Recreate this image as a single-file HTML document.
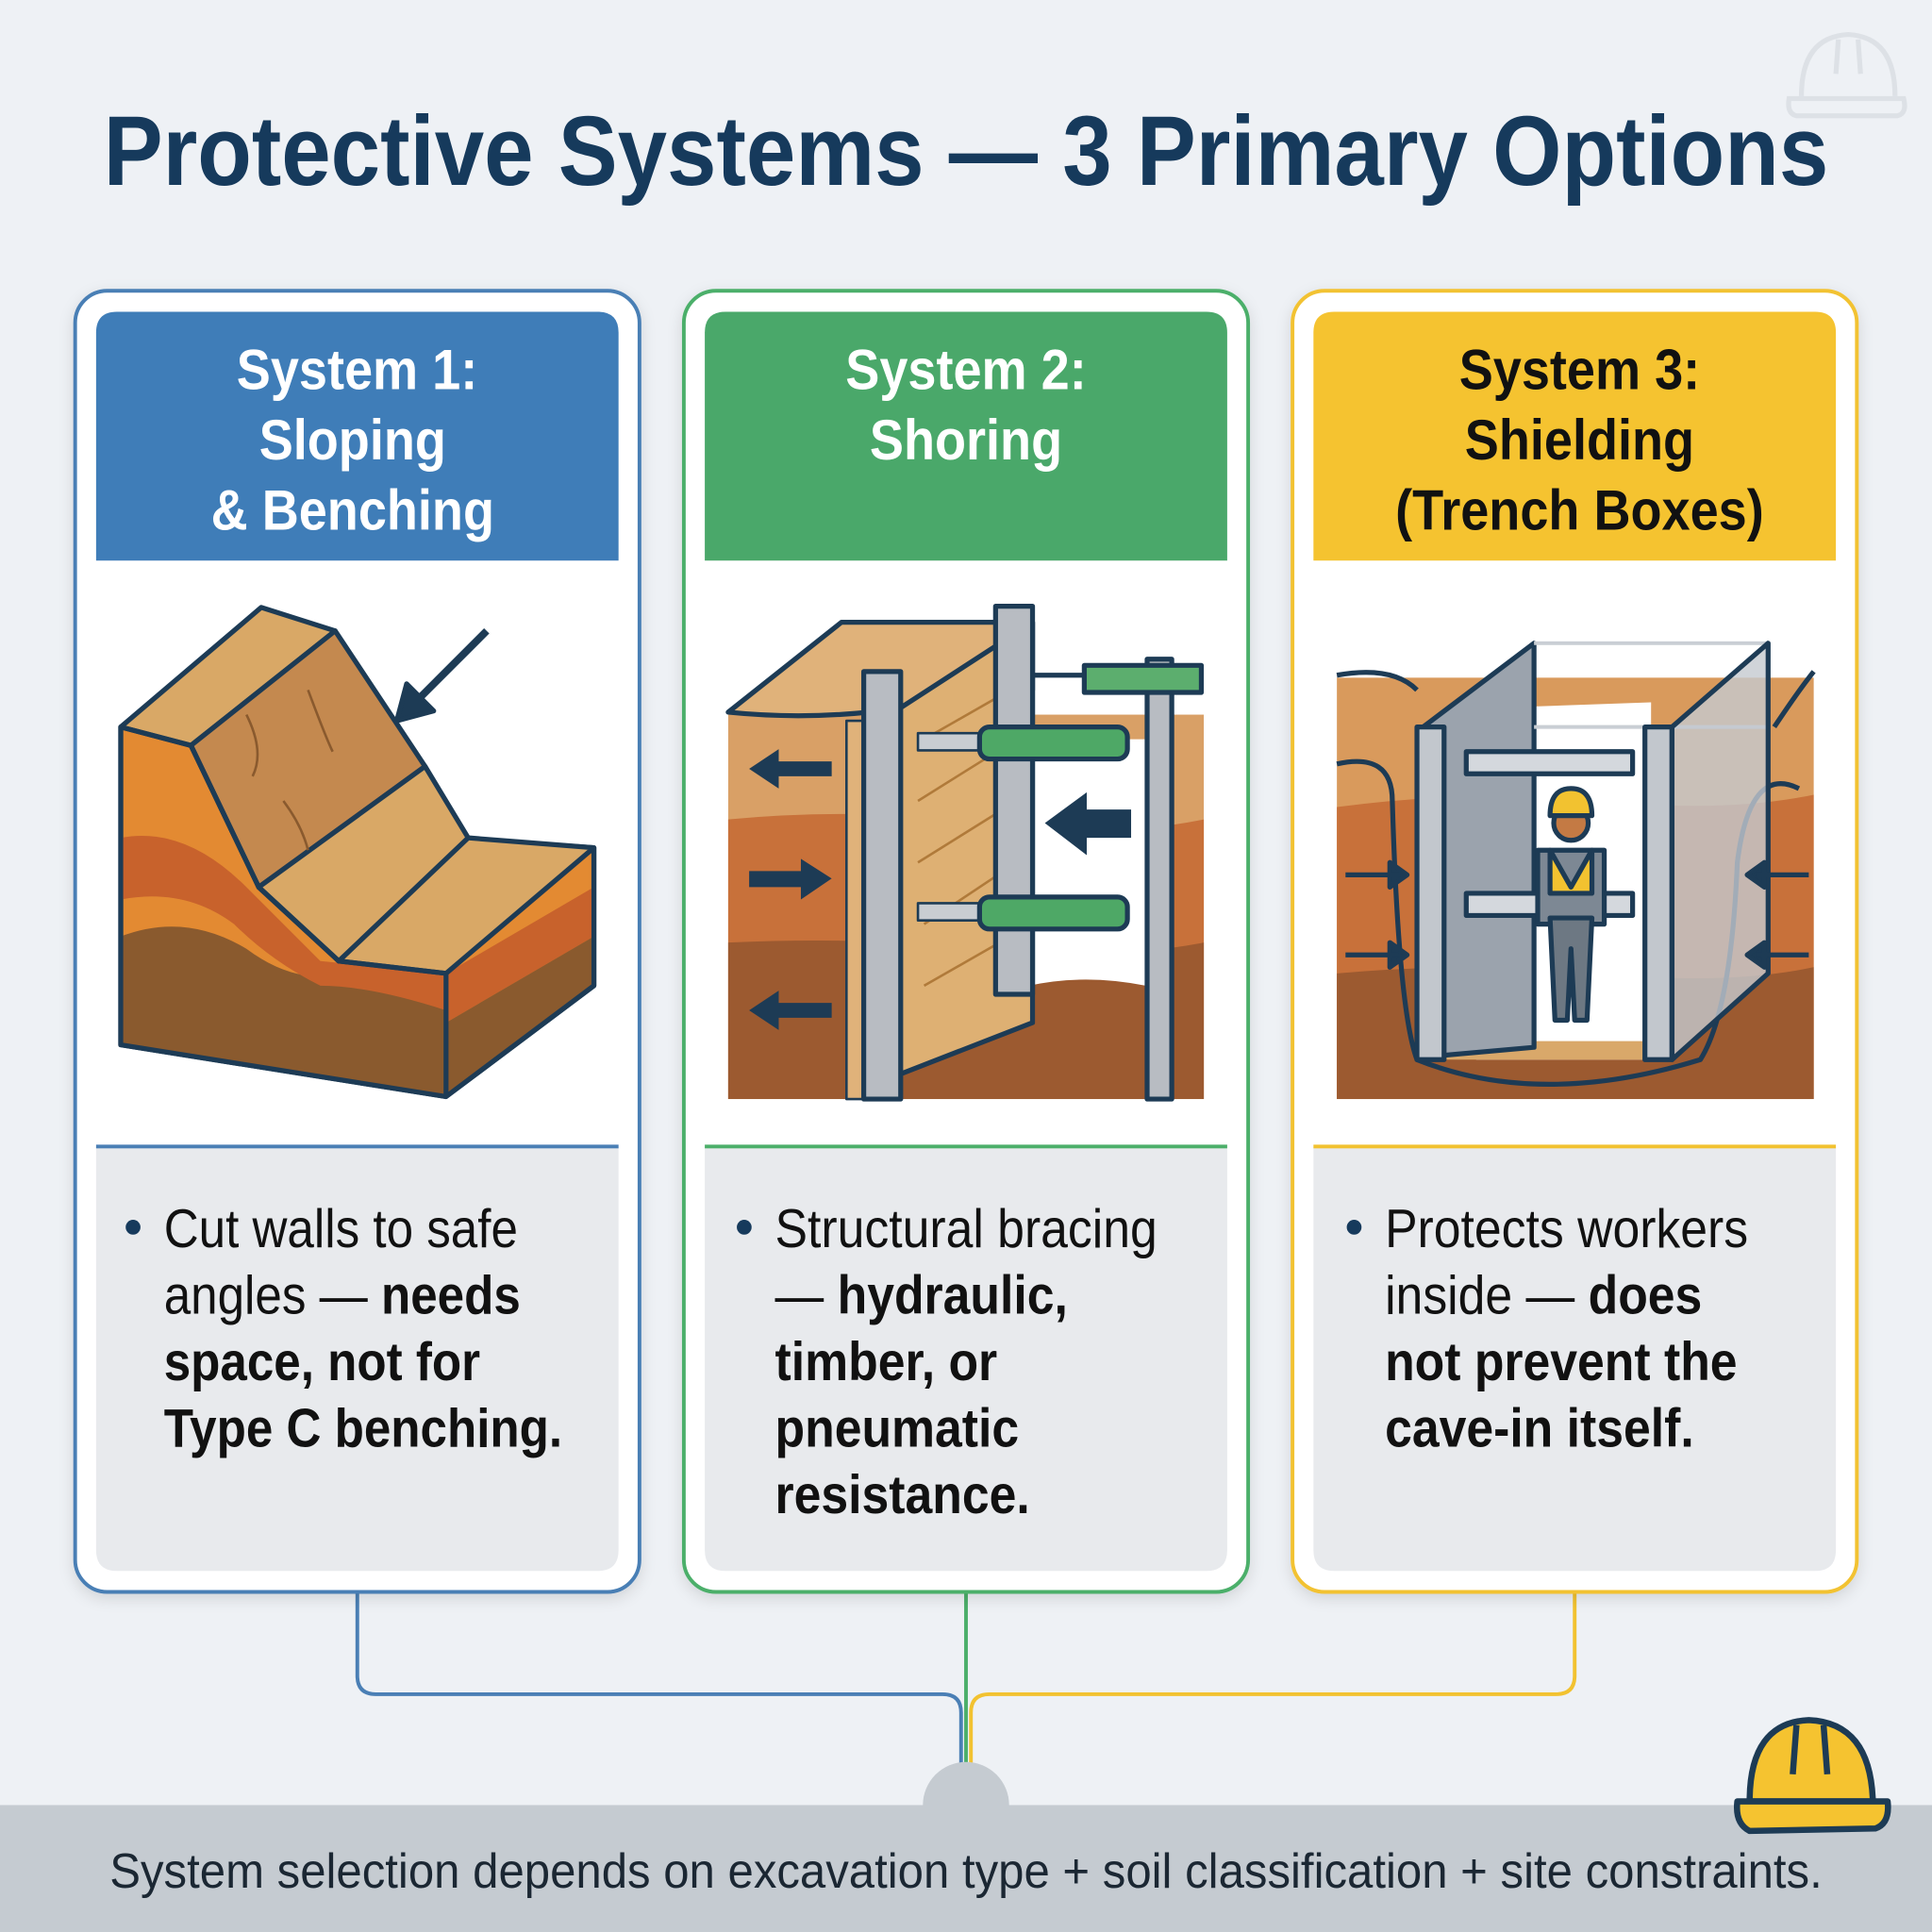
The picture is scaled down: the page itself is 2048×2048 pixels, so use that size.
<!DOCTYPE html>
<html><head><meta charset="utf-8"><style>
html,body{margin:0;padding:0;background:#eef1f5;}
svg{display:block;}
text{font-family:"Liberation Sans",sans-serif;}
</style></head><body>
<svg width="2048" height="2048" viewBox="0 0 1568 1568" xmlns="http://www.w3.org/2000/svg">
<defs>
<filter id="sh" x="-10%" y="-10%" width="120%" height="120%"><feDropShadow dx="0" dy="4" stdDeviation="6" flood-color="#000" flood-opacity="0.12"/></filter>
</defs>
<rect width="1568" height="1568" fill="#eef1f5"/>
<!-- faint hat top right -->
<g fill="none" stroke="#dde1e6" stroke-width="4">
<path d="M1462 78 Q1462 30 1500 28 Q1538 30 1538 78"/><path d="M1452 80 L1545 80 Q1548 92 1540 94 L1458 94 Q1450 92 1452 80Z"/>
<path d="M1492 32 L1490 60 M1508 32 L1510 60"/>
</g>
<text x="784" y="150" text-anchor="middle" font-size="80" font-weight="bold" fill="#163a5c" textLength="1400" lengthAdjust="spacingAndGlyphs">Protective Systems — 3 Primary Options</text>

<!-- connectors -->
<g fill="none" stroke-width="3">
<path d="M290 1292 V1360 Q290 1375 305 1375 H765 Q780 1375 780 1390 V1440" stroke="#4a7fb5"/>
<path d="M784 1292 V1440" stroke="#4caf6a"/>
<path d="M1278 1292 V1360 Q1278 1375 1263 1375 H803 Q788 1375 788 1390 V1440" stroke="#f2c230"/>
</g>

<!-- panels -->
<g filter="url(#sh)">
<rect x="61" y="236" width="458" height="1056" rx="26" fill="#fff" stroke="#4a7fb5" stroke-width="3"/>
<rect x="555" y="236" width="458" height="1056" rx="26" fill="#fff" stroke="#4caf6a" stroke-width="3"/>
<rect x="1049" y="236" width="458" height="1056" rx="26" fill="#fff" stroke="#f2c230" stroke-width="3"/>
</g>
<path d="M78 270 Q78 253 95 253 H485 Q502 253 502 270 V455 H78Z" fill="#3f7db8"/>
<path d="M572 270 Q572 253 589 253 H979 Q996 253 996 270 V455 H572Z" fill="#4aa86a"/>
<path d="M1066 270 Q1066 253 1083 253 H1473 Q1490 253 1490 270 V455 H1066Z" fill="#f5c330"/>
<g>
<path d="M78 931 H502 V1258 Q502 1275 485 1275 H95 Q78 1275 78 1258Z" fill="#e8eaed"/>
<path d="M572 931 H996 V1258 Q996 1275 979 1275 H589 Q572 1275 572 1258Z" fill="#e8eaed"/>
<path d="M1066 931 H1490 V1258 Q1490 1275 1473 1275 H1083 Q1066 1275 1066 1258Z" fill="#e8eaed"/>
<rect x="78" y="929" width="424" height="3" fill="#4a7fb5"/>
<rect x="572" y="929" width="424" height="3" fill="#4caf6a"/>
<rect x="1066" y="929" width="424" height="3" fill="#f2c230"/>
</g>
<!-- header text -->
<g font-size="46" font-weight="bold" text-anchor="middle">
<g transform="translate(288 0) scale(0.9 1) translate(-288 0)">
<text x="290" y="316" fill="#fff">System 1:</text>
<text x="286" y="373" fill="#fff">Sloping</text>
<text x="286" y="430" fill="#fff">&amp; Benching</text>
</g>
<g transform="translate(784 0) scale(0.9 1) translate(-784 0)">
<text x="784" y="316" fill="#fff">System 2:</text>
<text x="784" y="373" fill="#fff">Shoring</text>
</g>
<g transform="translate(1282 0) scale(0.9 1) translate(-1282 0)">
<text x="1282" y="316" fill="#111">System 3:</text>
<text x="1282" y="373" fill="#111">Shielding</text>
<text x="1282" y="430" fill="#111">(Trench Boxes)</text>
</g>
</g>
<!-- body text -->
<g font-size="44" fill="#111">
<circle cx="108" cy="996" r="6" fill="#163a5c"/>
<g transform="translate(133 0) scale(0.89 1) translate(-133 0)">
<text x="133" y="1012">Cut walls to safe</text>
<text x="133" y="1066">angles — <tspan font-weight="bold">needs</tspan></text>
<text x="133" y="1120" font-weight="bold">space, not for</text>
<text x="133" y="1174" font-weight="bold">Type C benching.</text>
</g>
<circle cx="604" cy="996" r="6" fill="#163a5c"/>
<g transform="translate(629 0) scale(0.9 1) translate(-629 0)">
<text x="629" y="1012">Structural bracing</text>
<text x="629" y="1066">— <tspan font-weight="bold">hydraulic,</tspan></text>
<text x="629" y="1120" font-weight="bold">timber, or</text>
<text x="629" y="1174" font-weight="bold">pneumatic</text>
<text x="629" y="1228" font-weight="bold">resistance.</text>
</g>
<circle cx="1099" cy="996" r="6" fill="#163a5c"/>
<g transform="translate(1124 0) scale(0.9 1) translate(-1124 0)">
<text x="1124" y="1012">Protects workers</text>
<text x="1124" y="1066">inside — <tspan font-weight="bold">does</tspan></text>
<text x="1124" y="1120" font-weight="bold">not prevent the</text>
<text x="1124" y="1174" font-weight="bold">cave-in itself.</text>
</g>
</g>

<!-- illustration 1 -->
<g stroke="#1d3b55" stroke-width="4" stroke-linejoin="round">
<path d="M98 590 L98 848 L362 890 L482 800 L482 688 L365 680 L275 780 L210 720 L155 605Z" fill="#e38a32"/>
<path d="M98 760 Q150 740 200 770 Q240 800 280 790 L362 820 L362 890 L98 848Z" fill="#8a5a2e" stroke="none"/>
<path d="M98 680 Q150 670 200 720 L260 780 L362 790 L362 820 Q300 800 260 800 Q220 780 190 750 Q150 720 98 730Z" fill="#c8622c" stroke="none"/>
<path d="M362 790 L482 720 L482 760 L362 830Z" fill="#c8622c" stroke="none"/>
<path d="M362 830 L482 760 L482 800 L362 890Z" fill="#8a5a2e" stroke="none"/>
<path d="M98 590 L98 848 L362 890 L482 800 L482 688" fill="none"/>
<path d="M98 590 L212 493 L272 512 L155 605Z" fill="#d9a866"/>
<path d="M155 605 L272 512 L345 622 L210 720Z" fill="#c4894f"/>
<path d="M210 720 L345 622 L380 680 L275 780Z" fill="#d9a866"/>
<path d="M275 780 L380 680 L482 688 L362 790Z" fill="#d9a866"/>
<path d="M362 790 L362 890" fill="none"/>
<path d="M98 590 L155 605 L210 720 L275 780 L362 790" fill="none"/>
<path d="M395 512 L335 572" fill="none" stroke-width="6"/>
<path d="M322 585 L330 555 L352 577Z" fill="#1d3b55"/>
<path d="M200 580 Q215 610 205 630 M250 560 Q265 600 270 610 M230 650 Q245 670 250 690" fill="none" stroke="#8a5a2e" stroke-width="2"/>
</g>

<!-- illustration 2 -->
<g stroke="#1d3b55" stroke-width="4" stroke-linejoin="round">
<rect x="591" y="580" width="386" height="312" fill="#d9a066" stroke="none"/>
<path d="M591 665 Q700 655 800 668 T977 665 V892 H591Z" fill="#c8713a" stroke="none"/>
<path d="M591 765 Q700 760 800 770 T977 765 V892 H591Z" fill="#9c5a30" stroke="none"/>
<path d="M835 600 H930 V800 Q880 790 835 800Z" fill="#fff" stroke="none"/>
<path d="M591 578 L683 505 L838 505 L838 560 L730 575 Q660 585 591 578Z" fill="#e0b27a"/>
<path d="M730 575 L838 505 L838 830 L730 872Z" fill="#deb073"/>
<path d="M750 600 L820 560 M745 650 L825 600 M745 700 L825 650 M750 750 L825 700 M750 800 L820 760" stroke="#b07a3a" stroke-width="2" fill="none"/>
<rect x="687" y="585" width="14" height="307" fill="#e0b27a" stroke-width="2"/>
<rect x="701" y="545" width="30" height="347" fill="#b8bcc2"/>
<rect x="808" y="492" width="30" height="315" fill="#b8bcc2"/>
<rect x="931" y="535" width="20" height="357" fill="#b8bcc2"/>
<path d="M838 548 H880 M880 540 H975 V562 H880Z" fill="#5cae6e"/>
<rect x="745" y="595" width="50" height="14" fill="#c9cdd2" stroke-width="2"/>
<rect x="795" y="590" width="120" height="26" rx="8" fill="#4ea866"/>
<rect x="745" y="733" width="50" height="14" fill="#c9cdd2" stroke-width="2"/>
<rect x="795" y="728" width="120" height="26" rx="8" fill="#4ea866"/>
<path d="M608 624 L632 608 V618 H675 V630 H632 V640Z" fill="#1d3b55" stroke="none"/>
<path d="M675 713 L650 697 V707 H608 V720 H650 V730Z" fill="#1d3b55" stroke="none"/>
<path d="M608 820 L632 804 V814 H675 V826 H632 V836Z" fill="#1d3b55" stroke="none"/>
<path d="M848 668 L882 643 V657 H918 V680 H882 V694Z" fill="#1d3b55" stroke="none"/>
</g>

<!-- illustration 3 -->
<g stroke="#1d3b55" stroke-width="4" stroke-linejoin="round">
<rect x="1085" y="550" width="387" height="342" fill="#d99a5c" stroke="none"/>
<path d="M1085 655 Q1200 640 1300 650 T1472 645 V892 H1085Z" fill="#c8713a" stroke="none"/>
<path d="M1085 790 Q1200 780 1300 790 T1472 785 V892 H1085Z" fill="#9c5a30" stroke="none"/>
<path d="M1085 548 Q1130 540 1150 560 M1085 620 Q1130 610 1130 650 Q1135 820 1150 860 Q1250 900 1380 860 Q1405 820 1410 700 Q1420 620 1460 640 M1440 590 Q1460 560 1472 545" fill="none"/>
<path d="M1198 575 L1340 570 L1340 860 L1198 860Z" fill="#fff" stroke="none"/>
<path d="M1170 845 L1340 845 L1340 860 L1160 860Z" fill="#d9a86a" stroke="none"/>
<path d="M1155 590 L1245 522 L1245 850 L1155 858Z" fill="#9ba3ad"/>
<path d="M1245 522 H1435 V590 H1245" fill="none" stroke="#c9ced4" stroke-width="3"/>
<rect x="1150" y="590" width="22" height="270" fill="#c2c7cd"/>
<rect x="1335" y="590" width="22" height="270" fill="#c2c7cd"/>
<path d="M1357 590 L1435 522 L1435 790 L1357 860Z" fill="#c4c9d0" fill-opacity="0.8"/>
<rect x="1190" y="610" width="135" height="18" fill="#d4d8dd"/>
<rect x="1190" y="725" width="135" height="18" fill="#d4d8dd"/>
<circle cx="1275" cy="668" r="14" fill="#c47a44"/>
<path d="M1258 662 Q1258 640 1275 640 Q1292 640 1292 662Z" fill="#f2c230"/>
<path d="M1248 690 H1302 V750 H1248Z" fill="#7d8894"/>
<path d="M1258 690 L1275 720 L1292 690 V725 H1258Z" fill="#f2c230"/>
<path d="M1258 745 H1292 L1288 828 H1278 L1275 770 L1272 828 H1262Z" fill="#6d7883"/>
<path d="M1092 710 H1135 M1128 700 L1142 710 L1128 720Z" fill="#1d3b55"/>
<path d="M1092 775 H1135 M1128 765 L1142 775 L1128 785Z" fill="#1d3b55"/>
<path d="M1468 710 H1425 M1432 700 L1418 710 L1432 720Z" fill="#1d3b55"/>
<path d="M1468 775 H1425 M1432 765 L1418 775 L1432 785Z" fill="#1d3b55"/>
</g>

<!-- bottom band -->
<rect x="0" y="1465" width="1568" height="103" fill="#c5cbd1"/>
<path d="M749 1465 A35 35 0 0 1 819 1465Z" fill="#c5cbd1"/>
<text x="784" y="1532" text-anchor="middle" font-size="40" fill="#1b2733" textLength="1390" lengthAdjust="spacingAndGlyphs">System selection depends on excavation type + soil classification + site constraints.</text>
<!-- yellow hat -->
<g stroke="#1d3b55" stroke-width="5" stroke-linejoin="round">
<path d="M1420 1462 Q1420 1398 1468 1396 Q1518 1398 1520 1462Z" fill="#f5c330"/>
<path d="M1410 1462 H1532 Q1534 1480 1522 1484 L1420 1486 Q1408 1480 1410 1462Z" fill="#f5c330"/>
<path d="M1458 1400 L1455 1440 M1480 1400 L1483 1440" fill="none"/>
</g>
</svg>
</body></html>
